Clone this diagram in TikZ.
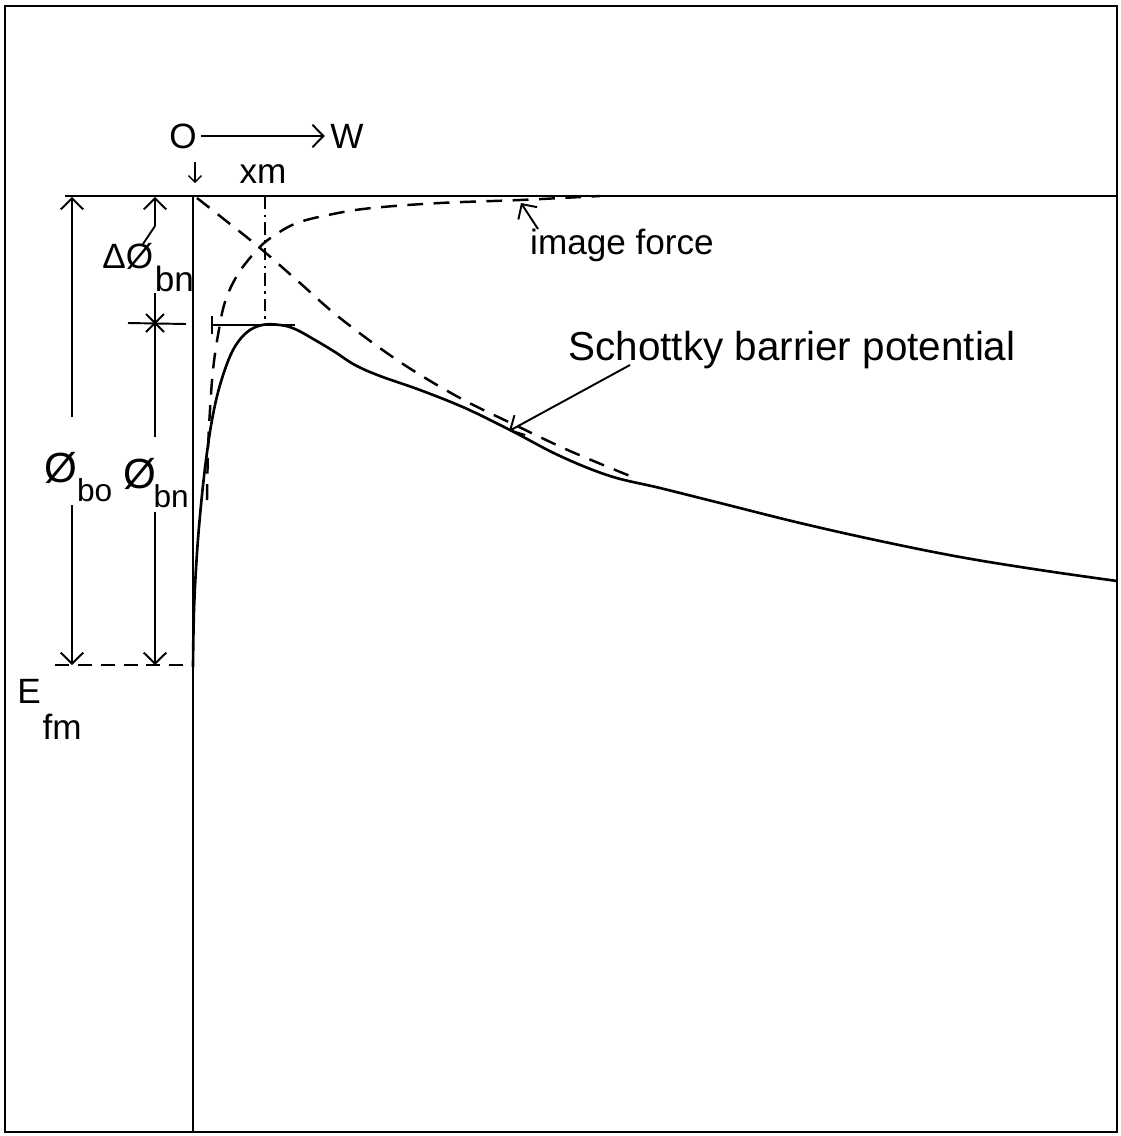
\documentclass[tikz,border=0pt]{standalone}
\usepackage{fontspec}
\setmainfont{Liberation Sans}
\usetikzlibrary{arrows.meta}

\begin{document}
\begin{tikzpicture}[x=0.02cm, y=-0.02cm,
    frame/.style={line width=1.6pt},
    wall/.style={line width=1.2pt},
    dim/.style={line width=1.1pt},
    curve/.style={line width=1.5pt, line join=round},
    dashcurve/.style={line width=1.4pt, dash pattern=on 9pt off 6pt},
    dashdot/.style={line width=1pt, dash pattern=on 7pt off 3pt on 1.5pt off 3pt},
    lbl/.style={font=\fontsize{20}{24}\selectfont, inner sep=0pt},
    phi/.style={font=\fontsize{24}{28}\selectfont, inner sep=0pt, anchor=base west},
    >={Straight Barb[length=2.2mm,width=4.5mm]}
]
    \useasboundingbox (0,0) rectangle (1121,1136);
    \draw[frame] (5,6) rectangle (1117,1132);

    % reference lines
    \coordinate (topl) at (65,196);
    \coordinate (topr) at (1117,196);
    \coordinate (surf) at (193,196);
    \coordinate (surfbot) at (193,1132);
    \coordinate (efl) at (55,665);
    \coordinate (efr) at (193,665);
    \draw[wall] (topl) -- (topr);
    \draw[wall] (surf) -- (surfbot);
    \draw[dim, dash pattern=on 8pt off 5pt] (efl) -- (efr);

    % origin and w axis
    \node[lbl] (orig) at (183,136) {O};
    \node[lbl] (wlbl) at (347,136) {W};
    \draw[dim,->] (orig.east) ++(4,0) -- ([xshift=-3pt]wlbl.west);
    \coordinate (darrtop) at (195,162);
    \coordinate (darrbot) at (195,183);
    \draw[line width=0.8pt,-{Straight Barb[length=1.3mm,width=2.6mm]}] (darrtop) -- (darrbot);

    % xm marker
    \node[lbl] (xmlbl) at (263,174) {xm};
    \coordinate (xmtop) at (265,197);
    \coordinate (xmbot) at (265,325);
    \draw[dashdot] (xmtop) -- (xmbot);
    \coordinate (pkl) at (212,325);
    \coordinate (pkr) at (295,325);
    \draw[dim] (pkl) -- (pkr);
    \draw[dim] ([yshift=5pt]pkl) -- ([yshift=-5pt]pkl);

    % phi_bo
    \coordinate (botop) at (72,197);
    \coordinate (bogapa) at (72,417);
    \coordinate (bogapb) at (72,505);
    \coordinate (bobot) at (72,665);
    \draw[dim,<-] (botop) -- (bogapa);
    \draw[dim,->] (bogapb) -- (bobot);
    \node[phi] (bolbl) at (44,482) {Ø\raisebox{-11pt}{\fontsize{18}{22}\selectfont bo}};

    % phi_bn
    \coordinate (bntop) at (155,323);
    \coordinate (bngapa) at (155,437);
    \coordinate (bngapb) at (155,512);
    \coordinate (bnbot) at (155,665);
    \draw[dim] (bntop) -- (bngapa);
    \draw[dim,->] (bngapb) -- (bnbot);
    \node[phi] (bnlbl) at (123,488) {Ø\kern-1.5pt\raisebox{-11pt}{\fontsize{18}{22}\selectfont bn}};

    % delta phi_bn
    \coordinate (dtop) at (155,197);
    \coordinate (dgapa) at (155,226);
    \coordinate (dgapb) at (155,293);
    \coordinate (dlead) at (143,244);
    \coordinate (crossl) at (128,323);
    \coordinate (crossr) at (186,324);
    \draw[dim,<-] (dtop) -- (dgapa);
    \draw[dim] (dgapb) -- (bntop);
    \draw[dim] (dlead) -- (dgapa);
    \draw[dim] (crossl) -- (crossr);
    \draw[dim] ([shift={(-9,-9)}]bntop) -- ([shift={(9,9)}]bntop)
               ([shift={(-9,9)}]bntop) -- ([shift={(9,-9)}]bntop);
    \node[phi, font=\fontsize{20}{24}\selectfont] (dlbl) at (102,268) {ΔØ\kern1pt\raisebox{-13.5pt}{bn}};

    % Fermi level
    \node[lbl, anchor=base west] (eflbl) at (17,703) {E\kern1pt\raisebox{-21pt}{fm}};

    % barrier curves
    \draw[curve] plot[smooth, tension=0.6] coordinates {(193,667) (194,610) (197,553) (201,505)
        (206,460) (212,420) (220,385) (232,352) (246,333) (262,325) (280,325) (295,329)
        (315,340) (335,352) (355,365) (380,376) (420,390) (465,408) (510,430) (560,456)
        (610,476) (660,488) (720,503) (800,523) (880,541) (960,557) (1040,570) (1117,581)};
    \draw[dashcurve] plot[smooth, tension=0.6] coordinates {(197,198) (225,220) (260,248)
        (300,283) (340,318) (400,362) (460,398) (515,425) (570,451) (635,478)};
    \draw[dashcurve] plot[smooth, tension=0.6] coordinates {(207,500) (208,450) (210,410)
        (213,370) (218,335) (225,302) (238,274) (257,250) (272,237) (297,223) (333,214)
        (372,208) (440,203) (520,200) (600,196)};

    % labels with leaders
    \node[lbl] (iflbl) at (622,245) {image force};
    \coordinate (ifstart) at (538,229);
    \coordinate (ifpt) at (521,203);
    \draw[dim,->] (ifstart) -- (ifpt);
    \node[lbl, font=\fontsize{23}{27}\selectfont] (sblbl) at (792,350) {Schottky barrier potential};
    \coordinate (sbstart) at (630,365);
    \coordinate (sbpt) at (509,431);
    \draw[dim,->] (sbstart) -- (sbpt);
\end{tikzpicture}
\end{document}
